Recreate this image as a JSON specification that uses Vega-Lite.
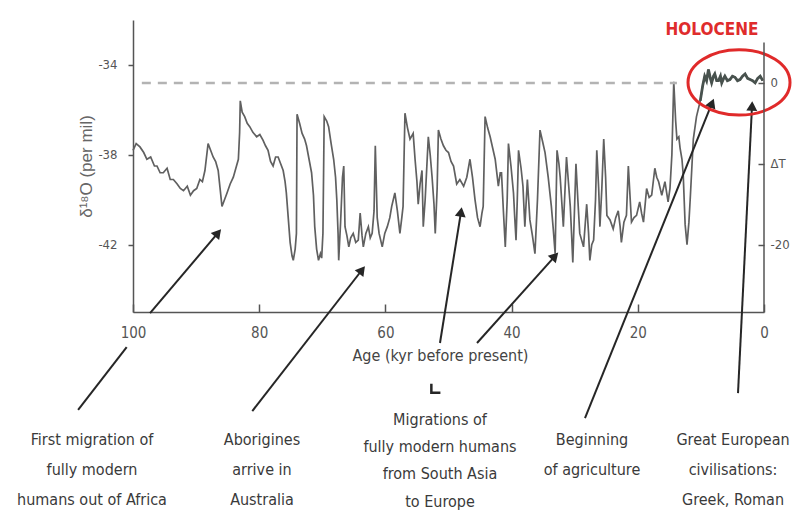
{
  "$schema": "https://vega.github.io/schema/vega-lite/v6.json",
  "width": 631,
  "height": 292,
  "autosize": {"type": "none"},
  "padding": {"left": 133, "top": 20, "right": 28, "bottom": 205},
  "background": "white",
  "config": {
    "view": {"stroke": null},
    "axis": {"grid": false, "domainColor": "#555", "domainWidth": 1.5, "tickColor": "#555", "tickWidth": 1.5, "labelColor": "#555", "titleColor": "#555", "labelFont": "Liberation Sans Narrow, DejaVu Sans Condensed, sans-serif", "titleFont": "Liberation Sans Narrow, DejaVu Sans Condensed, sans-serif", "titleFontWeight": "normal"}
  },
  "datasets": {
    "core": [
      {"age":100.0,"value":-37.8,"period":"Glacial"},{"age":99.5,"value":-37.5,"period":"Glacial"},{"age":98.9,"value":-37.65,"period":"Glacial"},{"age":98.3,"value":-37.9,"period":"Glacial"},{"age":97.8,"value":-38.2,"period":"Glacial"},{"age":97.2,"value":-38.1,"period":"Glacial"},{"age":96.6,"value":-38.5,"period":"Glacial"},{"age":96.2,"value":-38.5,"period":"Glacial"},{"age":95.7,"value":-38.8,"period":"Glacial"},{"age":95.2,"value":-38.8,"period":"Glacial"},{"age":94.6,"value":-38.6,"period":"Glacial"},{"age":94.1,"value":-39.1,"period":"Glacial"},{"age":93.6,"value":-39.1,"period":"Glacial"},{"age":93.0,"value":-39.3,"period":"Glacial"},{"age":92.5,"value":-39.5,"period":"Glacial"},{"age":92.0,"value":-39.6,"period":"Glacial"},{"age":91.4,"value":-39.4,"period":"Glacial"},{"age":90.9,"value":-39.8,"period":"Glacial"},{"age":90.4,"value":-39.6,"period":"Glacial"},{"age":89.9,"value":-39.5,"period":"Glacial"},{"age":89.4,"value":-39.1,"period":"Glacial"},{"age":89.0,"value":-39.2,"period":"Glacial"},{"age":88.6,"value":-38.7,"period":"Glacial"},{"age":88.1,"value":-37.5,"period":"Glacial"},{"age":87.7,"value":-37.8,"period":"Glacial"},{"age":87.3,"value":-38.1,"period":"Glacial"},{"age":86.9,"value":-38.3,"period":"Glacial"},{"age":86.5,"value":-38.7,"period":"Glacial"},{"age":86.2,"value":-39.5,"period":"Glacial"},{"age":85.9,"value":-40.3,"period":"Glacial"},{"age":85.5,"value":-40.0,"period":"Glacial"},{"age":85.1,"value":-39.7,"period":"Glacial"},{"age":84.6,"value":-39.3,"period":"Glacial"},{"age":84.1,"value":-39.0,"period":"Glacial"},{"age":83.7,"value":-38.6,"period":"Glacial"},{"age":83.3,"value":-38.2,"period":"Glacial"},{"age":83.1,"value":-37.0,"period":"Glacial"},{"age":83.0,"value":-35.6,"period":"Glacial"},{"age":82.7,"value":-36.1,"period":"Glacial"},{"age":82.3,"value":-36.3,"period":"Glacial"},{"age":81.9,"value":-36.6,"period":"Glacial"},{"age":81.5,"value":-36.75,"period":"Glacial"},{"age":81.0,"value":-37.0,"period":"Glacial"},{"age":80.4,"value":-37.2,"period":"Glacial"},{"age":79.9,"value":-37.1,"period":"Glacial"},{"age":79.4,"value":-37.35,"period":"Glacial"},{"age":79.0,"value":-37.6,"period":"Glacial"},{"age":78.6,"value":-37.8,"period":"Glacial"},{"age":78.2,"value":-38.3,"period":"Glacial"},{"age":77.8,"value":-38.5,"period":"Glacial"},{"age":77.4,"value":-38.1,"period":"Glacial"},{"age":77.0,"value":-38.1,"period":"Glacial"},{"age":76.6,"value":-38.4,"period":"Glacial"},{"age":76.2,"value":-38.7,"period":"Glacial"},{"age":75.9,"value":-39.2,"period":"Glacial"},{"age":75.7,"value":-39.7,"period":"Glacial"},{"age":75.4,"value":-40.8,"period":"Glacial"},{"age":75.1,"value":-41.9,"period":"Glacial"},{"age":74.8,"value":-42.5,"period":"Glacial"},{"age":74.6,"value":-42.7,"period":"Glacial"},{"age":74.3,"value":-42.2,"period":"Glacial"},{"age":74.1,"value":-41.5,"period":"Glacial"},{"age":74.0,"value":-36.2,"period":"Glacial"},{"age":73.6,"value":-36.6,"period":"Glacial"},{"age":73.2,"value":-37.05,"period":"Glacial"},{"age":72.8,"value":-37.3,"period":"Glacial"},{"age":72.5,"value":-37.6,"period":"Glacial"},{"age":72.1,"value":-38.2,"period":"Glacial"},{"age":71.7,"value":-38.8,"period":"Glacial"},{"age":71.4,"value":-39.8,"period":"Glacial"},{"age":71.2,"value":-41.2,"period":"Glacial"},{"age":70.9,"value":-42.2,"period":"Glacial"},{"age":70.6,"value":-42.7,"period":"Glacial"},{"age":70.3,"value":-42.4,"period":"Glacial"},{"age":70.1,"value":-42.6,"period":"Glacial"},{"age":69.9,"value":-41.5,"period":"Glacial"},{"age":69.7,"value":-36.3,"period":"Glacial"},{"age":69.3,"value":-36.5,"period":"Glacial"},{"age":69.0,"value":-36.75,"period":"Glacial"},{"age":68.6,"value":-37.5,"period":"Glacial"},{"age":68.2,"value":-38.2,"period":"Glacial"},{"age":67.9,"value":-39.0,"period":"Glacial"},{"age":67.7,"value":-40.0,"period":"Glacial"},{"age":67.5,"value":-41.5,"period":"Glacial"},{"age":67.4,"value":-42.7,"period":"Glacial"},{"age":67.1,"value":-41.0,"period":"Glacial"},{"age":66.8,"value":-39.0,"period":"Glacial"},{"age":66.6,"value":-38.5,"period":"Glacial"},{"age":66.4,"value":-41.2,"period":"Glacial"},{"age":66.1,"value":-41.6,"period":"Glacial"},{"age":65.8,"value":-42.1,"period":"Glacial"},{"age":65.5,"value":-41.7,"period":"Glacial"},{"age":65.1,"value":-41.5,"period":"Glacial"},{"age":64.7,"value":-41.9,"period":"Glacial"},{"age":64.3,"value":-41.8,"period":"Glacial"},{"age":64.0,"value":-40.6,"period":"Glacial"},{"age":63.7,"value":-41.6,"period":"Glacial"},{"age":63.5,"value":-42.1,"period":"Glacial"},{"age":63.1,"value":-41.5,"period":"Glacial"},{"age":62.7,"value":-41.2,"period":"Glacial"},{"age":62.4,"value":-41.7,"period":"Glacial"},{"age":62.1,"value":-41.5,"period":"Glacial"},{"age":61.8,"value":-40.5,"period":"Glacial"},{"age":61.6,"value":-37.6,"period":"Glacial"},{"age":61.3,"value":-40.8,"period":"Glacial"},{"age":61.0,"value":-41.5,"period":"Glacial"},{"age":60.5,"value":-42.1,"period":"Glacial"},{"age":60.1,"value":-41.5,"period":"Glacial"},{"age":59.7,"value":-41.2,"period":"Glacial"},{"age":59.3,"value":-40.8,"period":"Glacial"},{"age":59.0,"value":-40.3,"period":"Glacial"},{"age":58.5,"value":-39.7,"period":"Glacial"},{"age":58.1,"value":-40.5,"period":"Glacial"},{"age":57.7,"value":-41.5,"period":"Glacial"},{"age":57.4,"value":-40.8,"period":"Glacial"},{"age":57.2,"value":-40.3,"period":"Glacial"},{"age":56.9,"value":-36.15,"period":"Glacial"},{"age":56.5,"value":-36.8,"period":"Glacial"},{"age":56.1,"value":-37.3,"period":"Glacial"},{"age":55.6,"value":-37.05,"period":"Glacial"},{"age":55.3,"value":-38.2,"period":"Glacial"},{"age":55.0,"value":-39.2,"period":"Glacial"},{"age":54.8,"value":-40.2,"period":"Glacial"},{"age":54.5,"value":-39.3,"period":"Glacial"},{"age":54.2,"value":-38.7,"period":"Glacial"},{"age":54.0,"value":-41.2,"period":"Glacial"},{"age":53.7,"value":-40.0,"period":"Glacial"},{"age":53.2,"value":-37.2,"period":"Glacial"},{"age":52.9,"value":-38.0,"period":"Glacial"},{"age":52.6,"value":-39.0,"period":"Glacial"},{"age":52.3,"value":-40.2,"period":"Glacial"},{"age":52.1,"value":-41.5,"period":"Glacial"},{"age":51.8,"value":-39.5,"period":"Glacial"},{"age":51.6,"value":-36.9,"period":"Glacial"},{"age":51.2,"value":-37.3,"period":"Glacial"},{"age":50.8,"value":-37.6,"period":"Glacial"},{"age":50.4,"value":-37.8,"period":"Glacial"},{"age":50.0,"value":-37.9,"period":"Glacial"},{"age":49.6,"value":-38.3,"period":"Glacial"},{"age":49.2,"value":-38.5,"period":"Glacial"},{"age":48.7,"value":-39.3,"period":"Glacial"},{"age":48.2,"value":-39.1,"period":"Glacial"},{"age":47.6,"value":-39.4,"period":"Glacial"},{"age":47.1,"value":-39.0,"period":"Glacial"},{"age":46.6,"value":-38.2,"period":"Glacial"},{"age":46.2,"value":-39.0,"period":"Glacial"},{"age":45.8,"value":-40.0,"period":"Glacial"},{"age":45.4,"value":-40.8,"period":"Glacial"},{"age":45.0,"value":-41.2,"period":"Glacial"},{"age":44.7,"value":-40.6,"period":"Glacial"},{"age":44.5,"value":-40.3,"period":"Glacial"},{"age":44.2,"value":-36.3,"period":"Glacial"},{"age":43.8,"value":-36.8,"period":"Glacial"},{"age":43.4,"value":-37.2,"period":"Glacial"},{"age":43.0,"value":-37.7,"period":"Glacial"},{"age":42.6,"value":-38.2,"period":"Glacial"},{"age":42.1,"value":-39.4,"period":"Glacial"},{"age":41.8,"value":-38.8,"period":"Glacial"},{"age":41.6,"value":-38.8,"period":"Glacial"},{"age":41.3,"value":-40.5,"period":"Glacial"},{"age":41.0,"value":-42.1,"period":"Glacial"},{"age":40.7,"value":-40.0,"period":"Glacial"},{"age":40.5,"value":-37.5,"period":"Glacial"},{"age":40.1,"value":-38.5,"period":"Glacial"},{"age":39.7,"value":-39.7,"period":"Glacial"},{"age":39.5,"value":-40.8,"period":"Glacial"},{"age":39.3,"value":-41.8,"period":"Glacial"},{"age":39.1,"value":-40.0,"period":"Glacial"},{"age":38.9,"value":-37.8,"period":"Glacial"},{"age":38.5,"value":-38.6,"period":"Glacial"},{"age":38.2,"value":-39.4,"period":"Glacial"},{"age":37.9,"value":-41.2,"period":"Glacial"},{"age":37.5,"value":-39.1,"period":"Glacial"},{"age":37.3,"value":-40.0,"period":"Glacial"},{"age":37.1,"value":-40.9,"period":"Glacial"},{"age":36.7,"value":-41.6,"period":"Glacial"},{"age":36.3,"value":-42.4,"period":"Glacial"},{"age":35.9,"value":-40.0,"period":"Glacial"},{"age":35.5,"value":-36.9,"period":"Glacial"},{"age":35.1,"value":-37.4,"period":"Glacial"},{"age":34.7,"value":-37.9,"period":"Glacial"},{"age":34.2,"value":-39.0,"period":"Glacial"},{"age":33.7,"value":-40.3,"period":"Glacial"},{"age":33.4,"value":-41.3,"period":"Glacial"},{"age":33.1,"value":-42.4,"period":"Glacial"},{"age":32.8,"value":-37.8,"period":"Glacial"},{"age":32.5,"value":-38.4,"period":"Glacial"},{"age":32.3,"value":-39.0,"period":"Glacial"},{"age":31.8,"value":-41.2,"period":"Glacial"},{"age":31.3,"value":-38.1,"period":"Glacial"},{"age":31.0,"value":-39.2,"period":"Glacial"},{"age":30.7,"value":-40.3,"period":"Glacial"},{"age":30.5,"value":-41.5,"period":"Glacial"},{"age":30.3,"value":-42.8,"period":"Glacial"},{"age":29.8,"value":-38.4,"period":"Glacial"},{"age":29.5,"value":-40.0,"period":"Glacial"},{"age":29.2,"value":-41.5,"period":"Glacial"},{"age":28.9,"value":-41.8,"period":"Glacial"},{"age":28.6,"value":-42.1,"period":"Glacial"},{"age":28.1,"value":-40.2,"period":"Glacial"},{"age":27.8,"value":-41.5,"period":"Glacial"},{"age":27.6,"value":-42.7,"period":"Glacial"},{"age":27.3,"value":-42.0,"period":"Glacial"},{"age":27.0,"value":-41.8,"period":"Glacial"},{"age":26.7,"value":-40.0,"period":"Glacial"},{"age":26.5,"value":-37.8,"period":"Glacial"},{"age":26.2,"value":-39.5,"period":"Glacial"},{"age":26.0,"value":-41.2,"period":"Glacial"},{"age":25.7,"value":-39.5,"period":"Glacial"},{"age":25.4,"value":-37.3,"period":"Glacial"},{"age":25.1,"value":-39.0,"period":"Glacial"},{"age":24.9,"value":-40.7,"period":"Glacial"},{"age":24.4,"value":-40.9,"period":"Glacial"},{"age":23.9,"value":-41.3,"period":"Glacial"},{"age":23.5,"value":-40.8,"period":"Glacial"},{"age":23.1,"value":-40.5,"period":"Glacial"},{"age":22.8,"value":-41.2,"period":"Glacial"},{"age":22.6,"value":-41.9,"period":"Glacial"},{"age":22.2,"value":-41.0,"period":"Glacial"},{"age":21.8,"value":-40.7,"period":"Glacial"},{"age":21.5,"value":-38.5,"period":"Glacial"},{"age":21.2,"value":-40.0,"period":"Glacial"},{"age":21.0,"value":-41.0,"period":"Glacial"},{"age":20.6,"value":-40.8,"period":"Glacial"},{"age":20.2,"value":-40.7,"period":"Glacial"},{"age":19.7,"value":-40.1,"period":"Glacial"},{"age":19.4,"value":-40.6,"period":"Glacial"},{"age":19.1,"value":-41.0,"period":"Glacial"},{"age":18.6,"value":-39.5,"period":"Glacial"},{"age":18.2,"value":-39.9,"period":"Glacial"},{"age":17.8,"value":-39.8,"period":"Glacial"},{"age":17.3,"value":-38.6,"period":"Glacial"},{"age":17.0,"value":-39.0,"period":"Glacial"},{"age":16.7,"value":-39.2,"period":"Glacial"},{"age":16.2,"value":-39.8,"period":"Glacial"},{"age":15.7,"value":-39.2,"period":"Glacial"},{"age":15.2,"value":-40.1,"period":"Glacial"},{"age":14.9,"value":-39.5,"period":"Glacial"},{"age":14.6,"value":-38.0,"period":"Glacial"},{"age":14.3,"value":-34.75,"period":"Glacial"},{"age":14.0,"value":-36.5,"period":"Glacial"},{"age":13.8,"value":-37.3,"period":"Glacial"},{"age":13.5,"value":-37.2,"period":"Glacial"},{"age":13.3,"value":-37.7,"period":"Glacial"},{"age":13.0,"value":-38.2,"period":"Glacial"},{"age":12.8,"value":-38.9,"period":"Glacial"},{"age":12.5,"value":-41.1,"period":"Glacial"},{"age":12.2,"value":-42.0,"period":"Glacial"},{"age":11.9,"value":-41.0,"period":"Glacial"},{"age":11.7,"value":-40.0,"period":"Glacial"},{"age":11.2,"value":-37.3,"period":"Glacial"},{"age":10.7,"value":-36.3,"period":"Glacial"},
      {"age":10.1,"value":-35.6,"period":"Holocene"},{"age":9.7,"value":-34.9,"period":"Holocene"},{"age":9.4,"value":-34.5,"period":"Holocene"},{"age":9.1,"value":-34.7,"period":"Holocene"},{"age":8.8,"value":-34.2,"period":"Holocene"},{"age":8.5,"value":-34.6,"period":"Holocene"},{"age":8.3,"value":-34.8,"period":"Holocene"},{"age":8.0,"value":-34.5,"period":"Holocene"},{"age":7.8,"value":-34.4,"period":"Holocene"},{"age":7.5,"value":-34.7,"period":"Holocene"},{"age":7.2,"value":-34.7,"period":"Holocene"},{"age":6.9,"value":-34.5,"period":"Holocene"},{"age":6.7,"value":-34.8,"period":"Holocene"},{"age":6.4,"value":-34.6,"period":"Holocene"},{"age":6.2,"value":-34.5,"period":"Holocene"},{"age":5.8,"value":-34.7,"period":"Holocene"},{"age":5.4,"value":-34.65,"period":"Holocene"},{"age":5.0,"value":-34.5,"period":"Holocene"},{"age":4.6,"value":-34.55,"period":"Holocene"},{"age":4.2,"value":-34.7,"period":"Holocene"},{"age":3.8,"value":-34.65,"period":"Holocene"},{"age":3.4,"value":-34.5,"period":"Holocene"},{"age":3.0,"value":-34.4,"period":"Holocene"},{"age":2.6,"value":-34.6,"period":"Holocene"},{"age":2.2,"value":-34.65,"period":"Holocene"},{"age":1.8,"value":-34.7,"period":"Holocene"},{"age":1.4,"value":-34.8,"period":"Holocene"},{"age":1.0,"value":-34.6,"period":"Holocene"},{"age":0.6,"value":-34.5,"period":"Holocene"},{"age":0.2,"value":-34.7,"period":"Holocene"}
    ],
    "reference": [{"age": 98.6, "age2": 13.8, "value": -34.8}],
    "arrows": [
      {"age": 108.7, "value": -49.36, "age2": 101.0, "value2": -46.56},
      {"age": 97.3, "value": -45.05, "age2": 86.53, "value2": -41.48},
      {"age": 81.1, "value": -49.41, "age2": 63.71, "value2": -43.13},
      {"age": 51.35, "value": -46.38, "age2": 48.02, "value2": -40.55},
      {"age": 45.48, "value": -46.38, "age2": 33.12, "value2": -42.51},
      {"age": 28.37, "value": -49.72, "age2": 8.24, "value2": -35.70},
      {"age": 4.12, "value": -48.61, "age2": 1.90, "value2": -35.83}
    ],
    "heads": [
      {"age": 86.53, "value": -41.48, "angle": 40},
      {"age": 63.71, "value": -43.13, "angle": 38},
      {"age": 48.02, "value": -40.55, "angle": 9},
      {"age": 33.12, "value": -42.51, "angle": 43},
      {"age": 8.24, "value": -35.70, "angle": 22},
      {"age": 1.90, "value": -35.83, "angle": 3}
    ],
    "chevron": [{"age": 51.82, "value": -48.34}],
    "notes": [
      {"age": 106.5, "value": -50.70, "label": "First migration of"},
      {"age": 106.5, "value": -52.04, "label": "fully modern"},
      {"age": 106.5, "value": -53.37, "label": "humans out of Africa"},
      {"age": 79.56, "value": -50.70, "label": "Aborigines"},
      {"age": 79.56, "value": -52.04, "label": "arrive in"},
      {"age": 79.56, "value": -53.37, "label": "Australia"},
      {"age": 51.35, "value": -49.81, "label": "Migrations of"},
      {"age": 51.35, "value": -51.01, "label": "fully modern humans"},
      {"age": 51.35, "value": -52.21, "label": "from South Asia"},
      {"age": 51.35, "value": -53.46, "label": "to Europe"},
      {"age": 27.26, "value": -50.70, "label": "Beginning"},
      {"age": 27.26, "value": -52.04, "label": "of agriculture"},
      {"age": 4.91, "value": -50.70, "label": "Great European"},
      {"age": 4.91, "value": -52.04, "label": "civilisations:"},
      {"age": 4.91, "value": -53.37, "label": "Greek, Roman"}
    ],
    "holocene": [{"age": 8.24, "value": -32.45, "label": "HOLOCENE"}],
    "ellipse": [{"age": 3.96, "value": -34.78}],
    "raxis": [{"age": 0, "value": -33.0, "value2": -45.0}]
  },
  "layer": [
    {
      "layer": [
        {
          "data": {"name": "core"},
          "mark": {"type": "line", "color": "#606060", "strokeWidth": 1.7},
          "encoding": {
            "x": {"field": "age", "type": "quantitative", "scale": {"domain": [0, 100], "reverse": true, "nice": false, "zero": false},
                  "axis": {"values": [100, 80, 60, 40, 20, 0], "title": "Age (kyr before present)", "tickSize": -8, "labelPadding": 28, "labelBaseline": "middle", "labelFlush": false, "labelFontSize": 15, "titleFontSize": 16, "titleX": 307, "titleY": 43, "titleBaseline": "middle", "titleColor": "#444"}},
            "y": {"field": "value", "type": "quantitative", "scale": {"domain": [-45, -32], "nice": false, "zero": false},
                  "axis": {"values": [-34, -38, -42], "labelExpr": "'' + datum.value", "title": "δ¹⁸O (per mil)", "tickSize": 5, "labelPadding": 11, "labelFontSize": 13, "titleFontSize": 17, "titleFont": "Liberation Sans, sans-serif", "titleColor": "#666", "titleX": -47, "titleY": 146, "titleAngle": -90, "titleAlign": "center", "titleBaseline": "middle"}}
          }
        },
        {
          "data": {"name": "core"},
          "transform": [{"filter": "datum.period === 'Holocene'"}],
          "mark": {"type": "line", "color": "#48524e", "strokeWidth": 2.8},
          "encoding": {
            "x": {"field": "age", "type": "quantitative"},
            "y": {"field": "value", "type": "quantitative"}
          }
        },
        {
          "data": {"name": "reference"},
          "mark": {"type": "rule", "color": "#b3b3b3", "strokeWidth": 2.5, "strokeDash": [9, 7]},
          "encoding": {
            "x": {"field": "age", "type": "quantitative"},
            "x2": {"field": "age2"},
            "y": {"field": "value", "type": "quantitative"}
          }
        },
        {
          "data": {"name": "arrows"},
          "mark": {"type": "rule", "color": "#262626", "strokeWidth": 2},
          "encoding": {
            "x": {"field": "age", "type": "quantitative"},
            "x2": {"field": "age2"},
            "y": {"field": "value", "type": "quantitative"},
            "y2": {"field": "value2"}
          }
        },
        {
          "data": {"name": "heads"},
          "mark": {"type": "point", "shape": "triangle-up", "filled": true, "color": "#262626", "opacity": 1, "size": 120},
          "encoding": {
            "x": {"field": "age", "type": "quantitative"},
            "y": {"field": "value", "type": "quantitative"},
            "angle": {"field": "angle", "type": "quantitative", "scale": null}
          }
        },
        {
          "data": {"name": "chevron"},
          "mark": {"type": "point", "shape": "M -0.8 0.2 L 0 1 L 0.8 0.2", "filled": false, "color": "#262626", "opacity": 1, "size": 256, "strokeWidth": 2.5, "angle": 45},
          "encoding": {
            "x": {"field": "age", "type": "quantitative"},
            "y": {"field": "value", "type": "quantitative"}
          }
        },
        {
          "data": {"name": "notes"},
          "mark": {"type": "text", "align": "center", "baseline": "middle", "fontSize": 16, "font": "Liberation Sans Narrow, DejaVu Sans Condensed, sans-serif", "color": "#3a3a3a"},
          "encoding": {
            "x": {"field": "age", "type": "quantitative"},
            "y": {"field": "value", "type": "quantitative"},
            "text": {"field": "label"}
          }
        },
        {
          "data": {"name": "holocene"},
          "mark": {"type": "text", "align": "center", "baseline": "middle", "fontSize": 17, "fontWeight": "bold", "font": "Liberation Sans Narrow, DejaVu Sans Condensed, sans-serif", "color": "#df2c2c"},
          "encoding": {
            "x": {"field": "age", "type": "quantitative"},
            "y": {"field": "value", "type": "quantitative"},
            "text": {"field": "label"}
          }
        },
        {
          "data": {"name": "ellipse"},
          "mark": {"type": "point", "shape": "M 1 0 C 1 0.354 0.5523 0.64 0 0.64 C -0.5523 0.64 -1 0.354 -1 0 C -1 -0.354 -0.5523 -0.64 0 -0.64 C 0.5523 -0.64 1 -0.354 1 0 Z", "filled": false, "color": "#e02a2a", "opacity": 1, "size": 10404, "strokeWidth": 3},
          "encoding": {
            "x": {"field": "age", "type": "quantitative"},
            "y": {"field": "value", "type": "quantitative"}
          }
        }
      ]
    },
    {
      "data": {"name": "raxis"},
      "mark": {"type": "rule", "color": "#555", "strokeWidth": 1.5},
      "encoding": {
        "x": {"field": "age", "type": "quantitative"},
        "y": {"field": "value", "type": "quantitative", "scale": {"domain": [-45, -32], "nice": false, "zero": false},
              "axis": {"orient": "right", "values": [-34.8, -38.4, -42], "labelExpr": "datum.value > -35 ? '0' : (datum.value > -39 ? 'ΔT' : '-20')", "domain": false, "tickSize": -6, "labelPadding": 12, "labelFontSize": 13, "title": null}},
        "y2": {"field": "value2"}
      }
    }
  ],
  "resolve": {"scale": {"y": "independent"}}
}
